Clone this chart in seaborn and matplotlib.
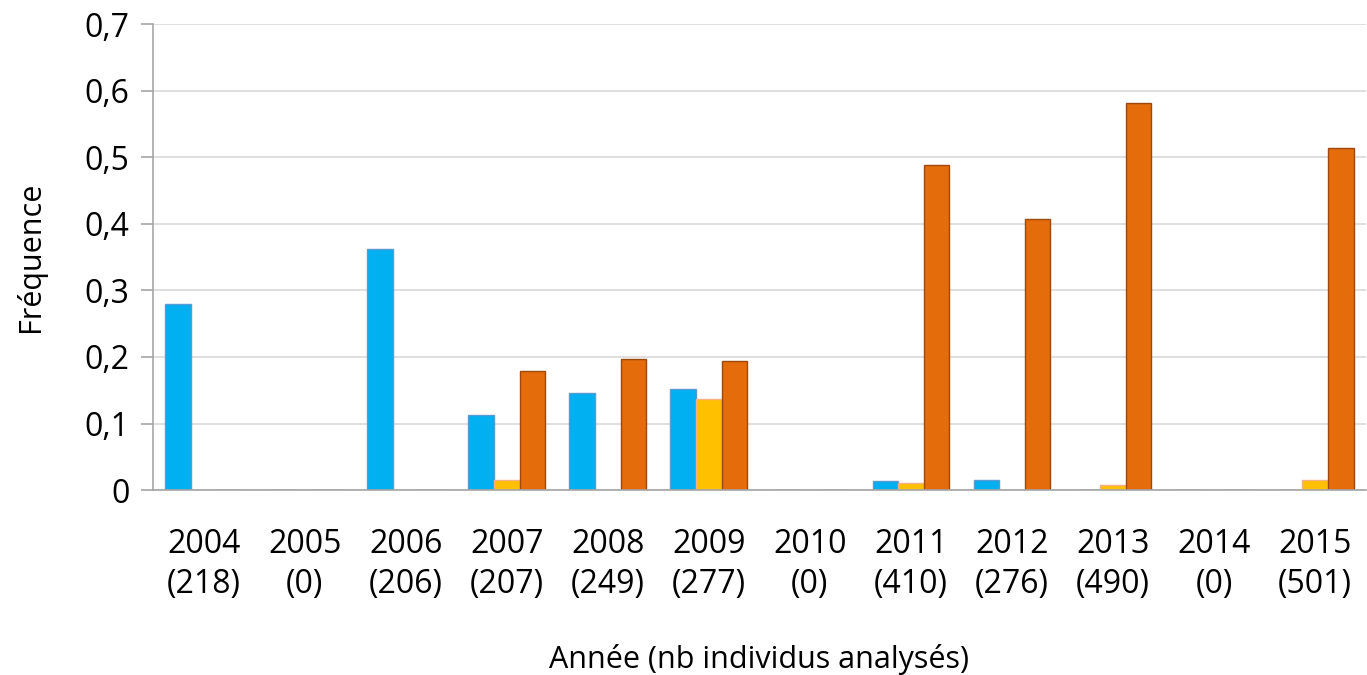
import numpy as np
import pandas as pd
import matplotlib
matplotlib.use("Agg")
import matplotlib.pyplot as plt
import seaborn as sns

annees = ["2004", "2005", "2006", "2007", "2008", "2009", "2010", "2011", "2012", "2013", "2014", "2015"]
effectifs = [218, 0, 206, 207, 249, 277, 0, 410, 276, 490, 0, 501]
serie_bleue = [0.280, 0, 0.363, 0.113, 0.146, 0.152, 0, 0.0135, 0.015, 0, 0, 0]
serie_jaune = [0, 0, 0, 0.015, 0, 0.137, 0, 0.011, 0, 0.008, 0, 0.015]
serie_orange = [0, 0, 0, 0.179, 0.197, 0.194, 0, 0.489, 0.407, 0.581, 0, 0.514]
series = ["Série 1", "Série 2", "Série 3"]
couleurs = ["#00B0F0", "#FFC000", "#E46C0A"]
bords = ["#5B9BD5", "#F4B183", "#9E480E"]

labels = [f"{a}\n({n})" for a, n in zip(annees, effectifs)]
df = pd.DataFrame({
    "annee": labels * 3,
    "serie": np.repeat(series, len(annees)),
    "freq": serie_bleue + serie_jaune + serie_orange,
})

sns.set_style("white")
plt.rcParams["font.family"] = ["Open Sans", "DejaVu Sans"]
plt.rcParams["text.color"] = "black"
plt.rcParams["axes.labelcolor"] = "black"

fig = plt.figure(figsize=(13.67, 6.75), dpi=100)
ax = fig.add_axes([0.112, 0.274, 0.887, 0.690])
sns.barplot(data=df, x="annee", y="freq", hue="serie", palette=couleurs,
            saturation=1, width=0.76, gap=0, legend=False, ax=ax)

# bordures des barres
n = len(annees)
for i, patch in enumerate(ax.patches[:3 * n]):
    patch.set_edgecolor(bords[i // n])
    patch.set_linewidth(1.0)

ax.set_ylim(0, 0.7)
ax.set_xlim(-0.5, n - 0.5)
ax.set_yticks(np.arange(0, 0.71, 0.1))
ax.set_yticklabels(["0"] + [f"0,{k}" for k in range(1, 8)])
ax.yaxis.grid(True, color="#D9D9D9", linewidth=1.2)
ax.set_axisbelow(True)

ax.set_xticks(np.arange(n))
ax.set_xticklabels(labels, linespacing=1.3)
ax.set_xticks(np.arange(n + 1) - 0.5, minor=True)
ax.tick_params(axis="x", which="major", length=0, pad=27, labelsize=23, colors="black")
ax.tick_params(axis="x", which="minor", length=11, width=1.2, color="#A6A6A6", direction="out")
ax.tick_params(axis="y", length=9, width=1.2, color="#A6A6A6", labelsize=23, pad=8, labelcolor="black")
ax.tick_params(axis="y", which="major", left=True)

for s in ["top", "right"]:
    ax.spines[s].set_visible(False)
for s in ["left", "bottom"]:
    ax.spines[s].set_color("#A6A6A6")
    ax.spines[s].set_linewidth(1.2)

ax.set_xlabel("Année (nb individus analysés)", fontsize=22, labelpad=31)
ax.set_ylabel("Fréquence", fontsize=22, labelpad=28)

fig.savefig("out.png", dpi=100)
